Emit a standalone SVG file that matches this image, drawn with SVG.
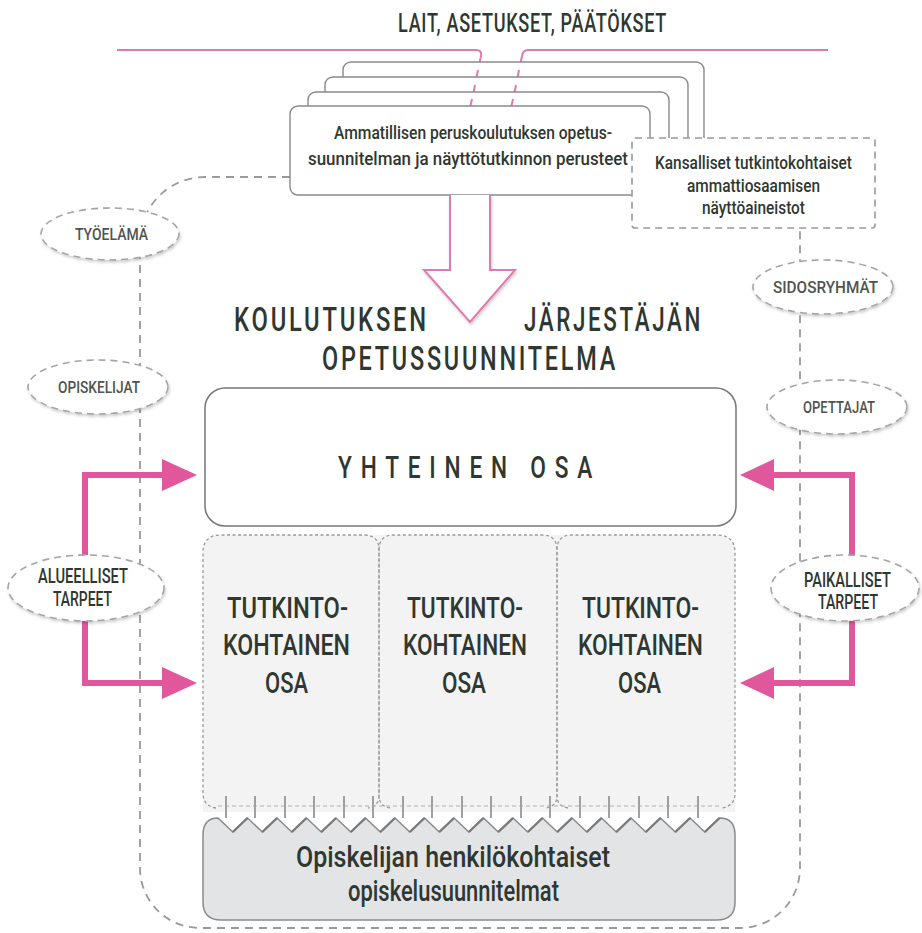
<svg xmlns="http://www.w3.org/2000/svg" width="922" height="933" viewBox="0 0 922 933">
<defs>
<style>
.t{font-family:Roboto,"Liberation Sans",Arial,sans-serif;font-weight:500;fill:#2f3731}
.lbl{font-family:Roboto,"Liberation Sans",Arial,sans-serif;font-weight:500;fill:#4f544f}
.card{fill:#fff;stroke:#8a8a8a;stroke-width:1.4}
.pinkthin{fill:none;stroke:#e07aae;stroke-width:2}
.pink{fill:none;stroke:#e0579c;stroke-width:6}
.pinkhead{fill:#e0579c}
.dash{fill:none;stroke:#9a9a9a;stroke-width:1.8;stroke-dasharray:8 6}
.ell{fill:#fff;stroke:#a5a5a5;stroke-width:1.6;stroke-dasharray:7 5}
.tk{fill:none;stroke:#9a9a9a;stroke-width:1.3;stroke-dasharray:3 2.5}
</style>
<filter id="sh" x="-20%" y="-20%" width="140%" height="150%"><feDropShadow dx="1" dy="2" stdDeviation="1.5" flood-color="#000" flood-opacity="0.2"/></filter>
</defs>

<text class="t" x="398" y="32" font-size="26" letter-spacing="1" textLength="269" lengthAdjust="spacingAndGlyphs">LAIT, ASETUKSET, PÄÄTÖKSET</text>

<g id="connectors">
<path class="dash" d="M290,177 H205 A65,65 0 0 0 140,242 V868 A60,60 0 0 0 200,928 H740 A60,60 0 0 0 800,868 V228"/>
<path class="pinkthin" d="M117,50 H476 Q482,50 481,56 M828,50 H528 Q523,50 522,56"/>
</g>

<g id="laws-cards">
<path class="pinkthin" d="M481,56 L470,108 M522,56 L511,108"/>
<rect class="card" x="343" y="62" width="361" height="89" rx="8"/>
<path class="pinkthin" d="M478,70 L476,80 M519,70 L517,80"/>
<rect class="card" x="325" y="77" width="363" height="89" rx="8"/>
<path class="pinkthin" d="M475,85 L473,95 M516,85 L514,95"/>
<rect class="card" x="308" y="92" width="361" height="89" rx="8"/>
<path class="pinkthin" d="M472,99 L470,108 M513,99 L511,108"/>
<rect class="card" x="290" y="106" width="360" height="89" rx="8"/>
<text class="t" x="334" y="139" font-size="19" textLength="278" lengthAdjust="spacingAndGlyphs">Ammatillisen peruskoulutuksen opetus-</text>
<text class="t" x="308" y="165" font-size="19" textLength="320" lengthAdjust="spacingAndGlyphs">suunnitelman ja näyttötutkinnon perusteet</text>
</g>

<g id="national-material">
<rect x="632" y="138" width="243" height="90" rx="3" fill="#fff" stroke="#9a9a9a" stroke-width="1.6" stroke-dasharray="7 5"/>
<text class="t" x="655" y="169" font-size="18" textLength="197" lengthAdjust="spacingAndGlyphs">Kansalliset tutkintokohtaiset</text>
<text class="t" x="687" y="192" font-size="18" textLength="133" lengthAdjust="spacingAndGlyphs">ammattiosaamisen</text>
<text class="t" x="702" y="214" font-size="18" textLength="103" lengthAdjust="spacingAndGlyphs">näyttöaineistot</text>
</g>

<g id="big-arrow">
<path d="M450,195 V270 H424 L470,322 L515,270 H490 V195" fill="#fff" stroke="#e07aae" stroke-width="2" filter="url(#sh)"/>
</g>

<g id="heading">
<text class="t" x="234" y="331" font-size="34" letter-spacing="4" textLength="195" lengthAdjust="spacingAndGlyphs">KOULUTUKSEN</text>
<text class="t" x="524" y="331" font-size="34" letter-spacing="4" textLength="179" lengthAdjust="spacingAndGlyphs">JÄRJESTÄJÄN</text>
<text class="t" x="322" y="370" font-size="34" letter-spacing="4" textLength="296" lengthAdjust="spacingAndGlyphs">OPETUSSUUNNITELMA</text>
</g>

<g id="yhteinen">
<rect x="205" y="388" width="531" height="138" rx="20" fill="#fff" stroke="#777" stroke-width="1.5"/>
<text class="t" x="338" y="478" font-size="31" letter-spacing="12" textLength="263" lengthAdjust="spacingAndGlyphs">YHTEINEN OSA</text>
</g>

<g id="tutkinto">
<path d="M223,535 H715 Q735,535 735,555 V812 H203 V555 Q203,535 223,535 Z" fill="#f3f3f4"/>
<path class="tk" d="M216,808 Q203,806 203,793 V553 Q203,535 221,535 H364 Q379,535 379,550 V796 Q379,806 368,808"/>
<path class="tk" d="M390,808 Q379,806 379,796 V550 Q379,535 394,535 H542 Q557,535 557,550 V796 Q557,806 546,808"/>
<path class="tk" d="M568,808 Q557,806 557,796 V550 Q557,535 572,535 H717 Q735,535 735,553 V793 Q735,806 722,808"/>
<text class="t" x="227" y="618" font-size="30" textLength="121" lengthAdjust="spacingAndGlyphs">TUTKINTO-</text>
<text class="t" x="223" y="655" font-size="30" textLength="127" lengthAdjust="spacingAndGlyphs">KOHTAINEN</text>
<text class="t" x="265" y="693" font-size="30" textLength="43" lengthAdjust="spacingAndGlyphs">OSA</text>
<text class="t" x="407" y="618" font-size="30" textLength="116" lengthAdjust="spacingAndGlyphs">TUTKINTO-</text>
<text class="t" x="403" y="655" font-size="30" textLength="124" lengthAdjust="spacingAndGlyphs">KOHTAINEN</text>
<text class="t" x="442" y="693" font-size="30" textLength="44" lengthAdjust="spacingAndGlyphs">OSA</text>
<text class="t" x="582" y="618" font-size="30" textLength="117" lengthAdjust="spacingAndGlyphs">TUTKINTO-</text>
<text class="t" x="578" y="655" font-size="30" textLength="125" lengthAdjust="spacingAndGlyphs">KOHTAINEN</text>
<text class="t" x="618" y="693" font-size="30" textLength="43" lengthAdjust="spacingAndGlyphs">OSA</text>
</g>

<g id="down-arrows">
<path d="M218,806 H720" fill="none" stroke="#b0b0b0" stroke-width="1.2" stroke-dasharray="4 3"/>
<path fill="none" stroke="#a0a0a0" stroke-width="2" d="M226,796 V818 M255,796 V818 M285,796 V818 M314,796 V818 M344,796 V818 M373,796 V818 M403,796 V818 M432,796 V818 M462,796 V818 M491,796 V818 M521,796 V818 M550,796 V818 M580,796 V818 M609,796 V818 M639,796 V818 M668,796 V818 M698,796 V818"/>
</g>

<g id="personal-plans">
<path d="M203,835 Q203,818 218,818 L232.8,832 L247.5,818 L262.3,832 L277,818 L291.8,832 L306.5,818 L321.3,832 L336,818 L350.8,832 L365.5,818 L380.3,832 L395,818 L409.8,832 L424.5,818 L439.3,832 L454,818 L468.8,832 L483.5,818 L498.3,832 L513,818 L527.8,832 L542.5,818 L557.3,832 L572,818 L586.8,832 L601.5,818 L616.3,832 L631,818 L645.8,832 L660.5,818 L675.3,832 L690,818 L704.8,832 L719.5,818 Q735,818 735,835 V902 Q735,920 717,920 H221 Q203,920 203,902 Z" fill="#e3e4e6" stroke="#8a8a8a" stroke-width="1.5"/>
<path fill="none" stroke="#7a7a7a" stroke-width="2.4" d="M232.8,832 L247.5,818 M262.3,832 L277,818 M291.8,832 L306.5,818 M321.3,832 L336,818 M350.8,832 L365.5,818 M380.3,832 L395,818 M409.8,832 L424.5,818 M439.3,832 L454,818 M468.8,832 L483.5,818 M498.3,832 L513,818 M527.8,832 L542.5,818 M557.3,832 L572,818 M586.8,832 L601.5,818 M616.3,832 L631,818 M645.8,832 L660.5,818 M675.3,832 L690,818 M704.8,832 L719.5,818"/>
<text class="t" x="296" y="867" font-size="29" textLength="314" lengthAdjust="spacingAndGlyphs">Opiskelijan henkilökohtaiset</text>
<text class="t" x="348" y="901" font-size="29" textLength="211" lengthAdjust="spacingAndGlyphs">opiskelusuunnitelmat</text>
</g>

<g id="needs-arrows">
<path class="pink" d="M165,475 H85 V683 H165"/>
<polygon class="pinkhead" points="162,459 197,475 162,491"/>
<polygon class="pinkhead" points="162,667 197,683 162,699"/>
<path class="pink" d="M771,475 H852 V683 H771"/>
<polygon class="pinkhead" points="774,459 740,475 774,491"/>
<polygon class="pinkhead" points="774,667 740,683 774,699"/>
</g>

<g id="tyoelama"><ellipse class="ell" cx="110" cy="234" rx="69" ry="26" filter="url(#sh)"/><text class="lbl" x="75" y="240" font-size="17" textLength="73" lengthAdjust="spacingAndGlyphs">TYÖELÄMÄ</text></g>
<g id="opiskelijat"><ellipse class="ell" cx="98" cy="387" rx="70" ry="27" filter="url(#sh)"/><text class="lbl" x="58" y="393" font-size="17" textLength="82" lengthAdjust="spacingAndGlyphs">OPISKELIJAT</text></g>
<g id="sidosryhmat"><ellipse class="ell" cx="823" cy="287" rx="70" ry="27" filter="url(#sh)"/><text class="lbl" x="773" y="293" font-size="17" textLength="105" lengthAdjust="spacingAndGlyphs">SIDOSRYHMÄT</text></g>
<g id="opettajat"><ellipse class="ell" cx="837" cy="407" rx="70" ry="27" filter="url(#sh)"/><text class="lbl" x="803" y="413" font-size="17" textLength="72" lengthAdjust="spacingAndGlyphs">OPETTAJAT</text></g>
<g id="alueelliset"><ellipse class="ell" cx="86" cy="588" rx="78" ry="33" filter="url(#sh)"/><text class="t" x="38" y="583" font-size="20" textLength="90" lengthAdjust="spacingAndGlyphs">ALUEELLISET</text><text class="t" x="53" y="606" font-size="20" textLength="59" lengthAdjust="spacingAndGlyphs">TARPEET</text></g>
<g id="paikalliset"><ellipse class="ell" cx="845" cy="588" rx="74" ry="33" filter="url(#sh)"/><text class="t" x="804" y="587" font-size="20" textLength="87" lengthAdjust="spacingAndGlyphs">PAIKALLISET</text><text class="t" x="818" y="609" font-size="20" textLength="60" lengthAdjust="spacingAndGlyphs">TARPEET</text></g>
</svg>
